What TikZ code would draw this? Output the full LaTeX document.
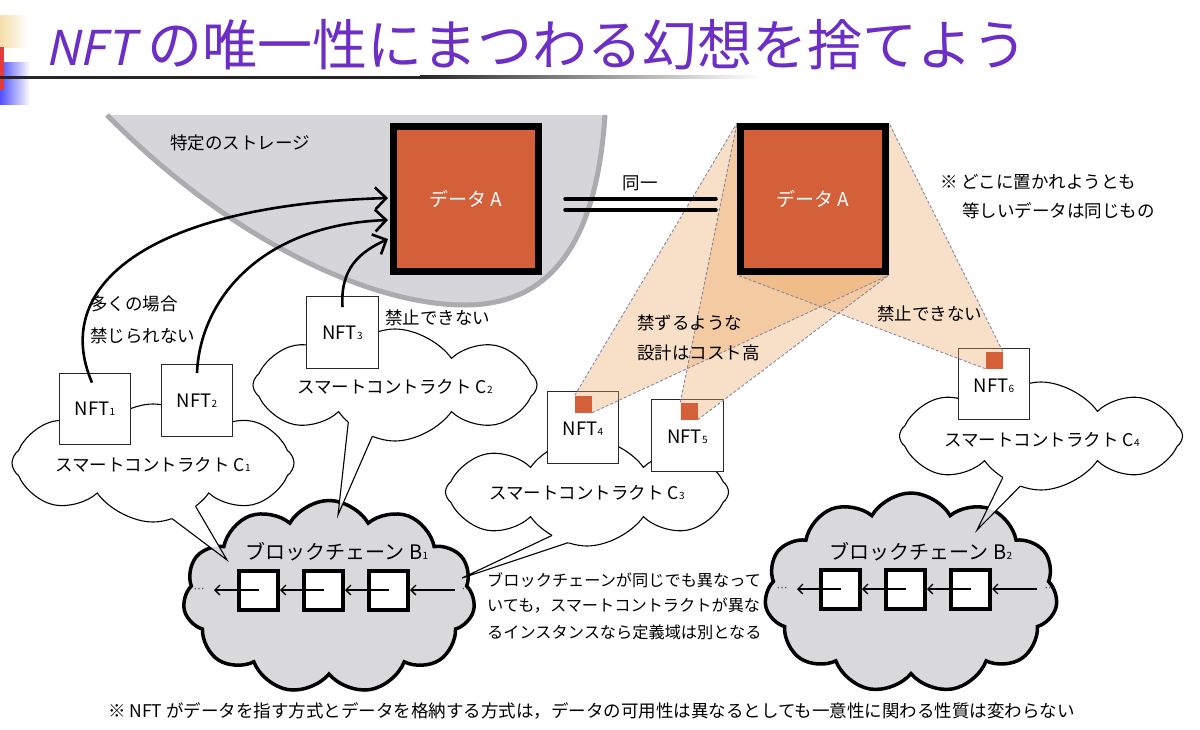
\documentclass[tikz,border=0pt]{standalone}
\usepackage{fontspec}
\setmainfont{Noto Sans CJK JP}
\newfontfamily\titleit[FakeSlant=0.22]{Noto Sans CJK JP}
\newfontfamily\dvs{DejaVu Sans}
\usetikzlibrary{shapes.symbols,arrows.meta,intersections,calc}
\definecolor{titlepurple}{RGB}{108,46,196}
\definecolor{dataorange}{RGB}{212,96,58}
\definecolor{storagefill}{RGB}{214,214,218}
\definecolor{storageedge}{RGB}{172,172,176}
\definecolor{conefill}{RGB}{235,165,95}
\definecolor{coneedge}{RGB}{135,135,165}
\definecolor{chaingray}{RGB}{217,217,220}
\definecolor{boxedge}{RGB}{40,40,40}
\definecolor{decobeige}{RGB}{245,222,170}
\definecolor{decoblue}{RGB}{80,80,255}
\definecolor{decored}{RGB}{228,60,60}
\newcommand{\sbs}[1]{{\fontsize{10}{10}\selectfont #1}}
% #1 cloud path, #2 inner base 1, #3 inner base 2, #4 tip, #5 id, #6 chain-cloud style, #7 chain-cloud position
\newcommand{\bubbletail}[7]{%
  \path[name path=#5a] #2 -- #4;
  \path[name path=#5b] #3 -- #4;
  \path[name intersections={of=#1 and #5a, by=#5x}];
  \path[name intersections={of=#1 and #5b, by=#5y}];
  \fill[white] #2 -- #4 -- #3 -- cycle;
  \begin{scope}
    \clip #2 -- #4 -- #3 -- cycle;
    \node[chaincloud, #6, draw=none] (#5fill) at #7 {};
  \end{scope}
  \draw[tailline] (#5x) -- #4 -- (#5y);}
\begin{document}
\begin{tikzpicture}[x=1pt,y=-1pt,
  lbl/.style={font=\fontsize{17.5}{17.5}\selectfont, inner sep=0pt},
  para/.style={font=\fontsize{16.2}{16.2}\selectfont, inner sep=0pt, anchor=west},
  nftbox/.style={draw=boxedge, line width=1.3pt, fill=white, minimum size=71.5pt, inner sep=0pt, font=\fontsize{18.5}{18.5}\selectfont},
  datab/.style={draw=black, line width=7pt, fill=dataorange, minimum size=145pt, inner sep=0pt, text=white, font=\fontsize{19}{19}\selectfont},
  redsq/.style={fill=dataorange, minimum size=17pt, inner sep=0pt},
  speech/.style={cloud, cloud puffs=8, cloud puff arc=110, cloud ignores aspect, draw=black, line width=1.1pt, fill=white, inner sep=0pt},
  chaincloud/.style={cloud, cloud puffs=11, cloud puff arc=120, cloud ignores aspect, draw=black, line width=3.5pt, fill=chaingray, inner sep=0pt},
  bonesize/.style={minimum width=292pt, minimum height=193pt},
  btwosize/.style={minimum width=293pt, minimum height=200pt},
  blockbox/.style={draw=black, line width=4pt, fill=white, minimum size=39pt, inner sep=0pt},
  bigarrow/.style={line width=2.6pt, -{Straight Barb[length=11pt,width=22pt]}},
  chainarrow/.style={line width=1.3pt, -{Straight Barb[length=5pt,width=10pt]}},
  coneline/.style={draw=coneedge, line width=0.9pt, dash pattern=on 3pt off 2pt},
  cone/.style={fill=conefill, fill opacity=0.35},
  tailline/.style={draw=black, line width=1.1pt, line join=miter},
  dots/.style={font=\dvs\fontsize{11}{11}\selectfont, text=black!75, inner sep=0pt}
]
\useasboundingbox (0,0) rectangle (1200,729);
\fill[white] (0,0) rectangle (1200,729);

% left decoration and title
\shade[left color=decobeige, right color=white] (0,15) rectangle (28,47);
\shade[left color=decoblue, right color=white] (0,62) rectangle (30,104);
\fill[decored] (0,47) rectangle (3.5,90);
\fill[black!85] (0,75.5) rectangle (420,78.5);
\shade[left color=black!85, right color=white] (420,75.5) rectangle (760,78.5);
\node[anchor=base west, inner sep=0pt, text=titlepurple, font=\fontsize{55}{55}\selectfont] (title) at (45,65) {{\titleit\fontsize{48}{48}\selectfont NFT} の唯一性にまつわる幻想を捨てよう};

% storage
\fill[storagefill] (107,115) .. controls (230,240) and (370,305) .. (465,305) .. controls (565,305) and (598,220) .. (605,115) -- cycle;
\draw[storageedge, line width=5pt] (107,115) .. controls (230,240) and (370,305) .. (465,305) .. controls (565,305) and (598,220) .. (605,115);
\node[lbl] (stl) at (240,143) {特定のストレージ};

% blockchains
\node[chaincloud, bonesize] (B1) at (329,597) {};
\node[chaincloud, btwosize] (B2) at (911,593) {};
\node[font=\fontsize{20}{20}\selectfont, inner sep=0pt] (B1t) at (337,552) {ブロックチェーン B\sbs{1}};
\node[font=\fontsize{20}{20}\selectfont, inner sep=0pt] (B2t) at (921,552) {ブロックチェーン B\sbs{2}};
\node[blockbox] (a1) at (258.5,590) {};
\node[blockbox] (a2) at (323.5,590) {};
\node[blockbox] (a3) at (388.5,590) {};
\coordinate (a0) at (214,590);
\coordinate (a4) at (455,590);
\node[dots] (ad0) at (199,590) {⋯};
\node[dots] (ad4) at (467,590) {⋯};
\draw[chainarrow] (a1.center) -- (a0);
\draw[chainarrow] (a2.center) -- (a1.east);
\draw[chainarrow] (a3.center) -- (a2.east);
\draw[chainarrow] (a4) -- (a3.east);
\node[blockbox] (b1) at (840.5,589) {};
\node[blockbox] (b2) at (905.5,589) {};
\node[blockbox] (b3) at (970.5,589) {};
\coordinate (b0) at (797,589);
\coordinate (b4) at (1037,589);
\node[dots] (bd0) at (782,589) {⋯};
\node[dots] (bd4) at (1050,589) {⋯};
\draw[chainarrow] (b1.center) -- (b0);
\draw[chainarrow] (b2.center) -- (b1.east);
\draw[chainarrow] (b3.center) -- (b2.east);
\draw[chainarrow] (b4) -- (b3.east);

% smart contract clouds
\node[speech, minimum width=282pt, minimum height=118pt, name path=c1p] (c1) at (153,463) {};
\coordinate (c1tip) at (227,560);
\bubbletail{c1p}{(138,493)}{(186,490)}{(c1tip)}{tone}{bonesize}{(329,597)}
\node[speech, minimum width=284pt, minimum height=112pt, name path=c2p] (c2) at (395,385) {};
\coordinate (c2tip) at (338,515);
\bubbletail{c2p}{(351,398)}{(389,398)}{(c2tip)}{ttwo}{bonesize}{(329,597)}
\node[speech, minimum width=283pt, minimum height=108pt, name path=c3p] (c3) at (587,492) {};
\coordinate (c3tip) at (462,578);
\bubbletail{c3p}{(591,517)}{(636,520)}{(c3tip)}{tthree}{bonesize}{(329,597)}
\node[speech, minimum width=283pt, minimum height=108pt, name path=c4p] (c4) at (1041,436) {};
\coordinate (c4tip) at (977,530);
\bubbletail{c4p}{(1010,463)}{(1045,461)}{(c4tip)}{tfour}{btwosize}{(911,593)}
\node[lbl] (c1t) at (153,465) {スマートコントラクト C\sbs{1}};
\node[lbl] (c2t) at (395,387) {スマートコントラクト C\sbs{2}};
\node[lbl] (c3t) at (587,493) {スマートコントラクト C\sbs{3}};
\node[lbl] (c4t) at (1042,440) {スマートコントラクト C\sbs{4}};

% NFT boxes
\node[nftbox] (n1) at (95,409) {NFT\sbs{1}};
\node[nftbox] (n2) at (197,400.5) {NFT\sbs{2}};
\node[nftbox] (n3) at (342.5,332.5) {NFT\sbs{3}};
\node[nftbox] (n4) at (583,427.5) {};
\node[nftbox] (n5) at (687.5,435.5) {};
\node[nftbox] (n6) at (994,384) {};
\node[inner sep=0pt, font=\fontsize{18.5}{18.5}\selectfont] (n4t) at (583,429) {NFT\sbs{4}};
\node[inner sep=0pt, font=\fontsize{18.5}{18.5}\selectfont] (n5t) at (687.5,437) {NFT\sbs{5}};
\node[inner sep=0pt, font=\fontsize{18.5}{18.5}\selectfont] (n6t) at (994,386) {NFT\sbs{6}};

% data boxes (positions needed for cones)
\node[datab] (dL) at (466,199) {データ A};
\node[datab] (dR) at (813,199) {};
\node[redsq] (r4) at (583.5,404) {};
\node[redsq] (r5) at (689,411) {};
\node[redsq] (r6) at (994,360) {};

% cones
\fill[cone] (r4.north west) -- (dR.north west) -- (dR.north east) -- (dR.south east) -- (r4.south east) -- (r4.south west) -- cycle;
\fill[cone] (r5.north west) -- (dR.north west) -- (dR.north east) -- (dR.south east) -- (r5.south east) -- (r5.south west) -- cycle;
\fill[cone] (dR.south west) -- (dR.north west) -- (dR.north east) -- (r6.north east) -- (r6.south east) -- (r6.south west) -- cycle;
\draw[coneline] (r4.north west) -- (dR.north west);
\draw[coneline] (r4.south east) -- (dR.south east);
\draw[coneline] (r5.north west) -- (dR.north west);
\draw[coneline] (r5.south east) -- (dR.south east);
\draw[coneline] (r6.south west) -- (dR.south west);
\draw[coneline] (r6.north east) -- (dR.north east);
\node[redsq] (r4b) at (r4) {};
\node[redsq] (r5b) at (r5) {};
\node[redsq] (r6b) at (r6) {};
\node[datab] (dR2) at (dR) {データ A};

% arrows NFT -> data A
\draw[bigarrow] ([shift={(-3,10)}]n1.north) .. controls (50,285) and (150,205) .. ([shift={(-2,-1)}]dL.west);
\draw[bigarrow] ([shift={(0,9)}]n2.north) .. controls (200,300) and (260,225) .. ([shift={(-2,21)}]dL.west);
\draw[bigarrow] ([shift={(0,11)}]n3.north) .. controls (340,268) and (360,252) .. ([shift={(-2,40)}]dL.west);

% identity double line
\coordinate (eqa1) at (565,199);
\coordinate (eqb1) at (716,199);
\coordinate (eqa2) at (565,210);
\coordinate (eqb2) at (716,210);
\draw[line width=3.5pt, line cap=round] (eqa1) -- (eqb1);
\draw[line width=3.5pt, line cap=round] (eqa2) -- (eqb2);

% labels
\node[lbl] (same) at (640,183) {同一};
\node[lbl, anchor=west] (note1) at (940,182) {※ どこに置かれようとも};
\node[lbl, anchor=west] (note2) at (962,211) {等しいデータは同じもの};
\node[lbl, anchor=west] (l1) at (90,304) {多くの場合};
\node[lbl, anchor=west] (l2) at (90,336) {禁じられない};
\node[lbl, anchor=west] (l3) at (385,318) {禁止できない};
\node[lbl, anchor=west] (l4) at (637,323) {禁ずるような};
\node[lbl, anchor=west] (l5) at (637,353) {設計はコスト高};
\node[lbl, anchor=west] (l6) at (877,314) {禁止できない};
\node[para] (p1) at (487,580) {ブロックチェーンが同じでも異なって};
\node[para] (p2) at (487,606) {いても，スマートコントラクトが異な};
\node[para] (p3) at (487,632) {るインスタンスなら定義域は別となる};
\node[lbl, anchor=west] (foot) at (108,711) {※ NFT がデータを指す方式とデータを格納する方式は，データの可用性は異なるとしても一意性に関わる性質は変わらない};
\end{tikzpicture}
\end{document}
